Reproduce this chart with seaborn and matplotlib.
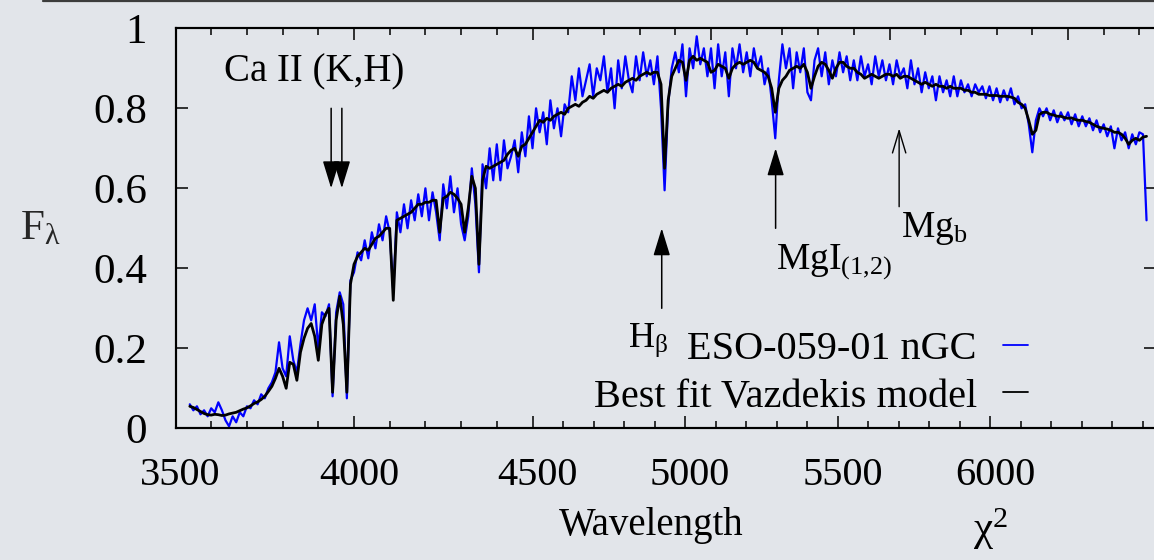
import numpy as np
import pandas as pd
import matplotlib
matplotlib.use("Agg")
import matplotlib.pyplot as plt
import seaborn as sns
from matplotlib.ticker import MultipleLocator, FixedLocator, FixedFormatter, NullFormatter
from matplotlib.lines import Line2D
from matplotlib.transforms import ScaledTranslation

# ---------------- data ----------------
wave_start, wave_stop, wave_step = 3540, 6220, 10

observed_flux = [
    0.060, 0.045, 0.055, 0.035, 0.045, 0.030, 0.050, 0.040, 0.065, 0.045,
    0.020, 0.005, 0.030, 0.015, 0.040, 0.030, 0.055, 0.050, 0.070, 0.060,
    0.085, 0.075, 0.100, 0.115, 0.140, 0.215, 0.150, 0.130, 0.230, 0.170,
    0.140, 0.210, 0.270, 0.300, 0.270, 0.310, 0.200, 0.290, 0.280, 0.310,
    0.080, 0.290, 0.340, 0.310, 0.075, 0.370, 0.390, 0.440, 0.420, 0.470,
    0.425, 0.490, 0.450, 0.510, 0.470, 0.530, 0.490, 0.340, 0.540, 0.490,
    0.560, 0.500, 0.570, 0.520, 0.585, 0.530, 0.600, 0.520, 0.590, 0.540,
    0.470, 0.610, 0.550, 0.630, 0.540, 0.600, 0.510, 0.470, 0.530, 0.650,
    0.560, 0.390, 0.660, 0.600, 0.700, 0.620, 0.710, 0.620, 0.720, 0.650,
    0.680, 0.720, 0.640, 0.740, 0.680, 0.780, 0.700, 0.800, 0.740, 0.790,
    0.710, 0.820, 0.750, 0.800, 0.730, 0.810, 0.790, 0.880, 0.820, 0.900,
    0.830, 0.870, 0.910, 0.830, 0.900, 0.870, 0.930, 0.840, 0.900, 0.800,
    0.920, 0.850, 0.930, 0.870, 0.840, 0.930, 0.870, 0.940, 0.880, 0.920,
    0.860, 0.930, 0.800, 0.595, 0.810, 0.900, 0.940, 0.890, 0.960, 0.830,
    0.950, 0.900, 0.980, 0.910, 0.950, 0.880, 0.950, 0.850, 0.960, 0.880,
    0.940, 0.830, 0.950, 0.900, 0.960, 0.890, 0.940, 0.880, 0.950, 0.900,
    0.930, 0.860, 0.900, 0.820, 0.725, 0.870, 0.960, 0.900, 0.950, 0.850,
    0.940, 0.890, 0.950, 0.840, 0.820, 0.920, 0.950, 0.880, 0.940, 0.860,
    0.920, 0.880, 0.940, 0.890, 0.930, 0.870, 0.920, 0.870, 0.930, 0.880,
    0.910, 0.860, 0.930, 0.880, 0.920, 0.870, 0.910, 0.860, 0.920, 0.880,
    0.900, 0.850, 0.920, 0.860, 0.900, 0.840, 0.890, 0.850, 0.880, 0.820,
    0.880, 0.840, 0.870, 0.830, 0.880, 0.830, 0.870, 0.840, 0.860, 0.830,
    0.860, 0.840, 0.855, 0.825, 0.855, 0.820, 0.850, 0.815, 0.845, 0.820,
    0.850, 0.810, 0.830, 0.800, 0.810, 0.760, 0.690, 0.770, 0.800, 0.780,
    0.800, 0.770, 0.795, 0.765, 0.790, 0.770, 0.790, 0.760, 0.785, 0.755,
    0.780, 0.755, 0.775, 0.745, 0.770, 0.740, 0.760, 0.730, 0.755, 0.700,
    0.750, 0.720, 0.740, 0.700, 0.735, 0.710, 0.740, 0.735, 0.520,
]

model_flux = [
    0.055, 0.052, 0.047, 0.042, 0.037, 0.034, 0.033, 0.035, 0.034, 0.032,
    0.033, 0.036, 0.038, 0.040, 0.044, 0.048, 0.051, 0.056, 0.062, 0.066,
    0.072, 0.080, 0.092, 0.105, 0.125, 0.150, 0.130, 0.100, 0.165, 0.160,
    0.120, 0.190, 0.225, 0.250, 0.262, 0.230, 0.170, 0.260, 0.285, 0.300,
    0.090, 0.270, 0.330, 0.260, 0.090, 0.360, 0.410, 0.430, 0.440, 0.450,
    0.445, 0.460, 0.475, 0.480, 0.490, 0.500, 0.500, 0.320, 0.520, 0.525,
    0.530, 0.535, 0.540, 0.550, 0.560, 0.560, 0.565, 0.565, 0.570, 0.570,
    0.490, 0.575, 0.580, 0.590, 0.585, 0.575, 0.560, 0.490, 0.550, 0.630,
    0.600, 0.410, 0.620, 0.655, 0.650, 0.655, 0.660, 0.665, 0.670, 0.685,
    0.695, 0.700, 0.680, 0.705, 0.710, 0.725, 0.740, 0.755, 0.770, 0.765,
    0.775, 0.770, 0.780, 0.785, 0.790, 0.785, 0.800, 0.805, 0.810, 0.805,
    0.815, 0.820, 0.830, 0.825, 0.835, 0.840, 0.845, 0.840, 0.850, 0.855,
    0.860, 0.855, 0.865, 0.870, 0.875, 0.870, 0.880, 0.885, 0.890, 0.885,
    0.890, 0.890, 0.860, 0.650, 0.820, 0.880, 0.900, 0.920, 0.915, 0.870,
    0.920, 0.930, 0.920, 0.925, 0.920, 0.915, 0.890, 0.895, 0.910, 0.905,
    0.900, 0.875, 0.900, 0.910, 0.915, 0.910, 0.915, 0.920, 0.915, 0.900,
    0.895, 0.890, 0.880, 0.850, 0.790, 0.850, 0.870, 0.880, 0.895, 0.900,
    0.905, 0.900, 0.910, 0.890, 0.850, 0.880, 0.905, 0.915, 0.910, 0.895,
    0.875, 0.900, 0.915, 0.915, 0.905, 0.900, 0.900, 0.890, 0.885, 0.875,
    0.880, 0.885, 0.880, 0.875, 0.880, 0.885, 0.885, 0.880, 0.885, 0.875,
    0.880, 0.880, 0.875, 0.870, 0.865, 0.860, 0.865, 0.860, 0.855, 0.860,
    0.855, 0.855, 0.850, 0.855, 0.850, 0.850, 0.850, 0.845, 0.845, 0.840,
    0.840, 0.835, 0.835, 0.835, 0.832, 0.832, 0.832, 0.830, 0.830, 0.830,
    0.828, 0.825, 0.815, 0.810, 0.800, 0.770, 0.735, 0.745, 0.785, 0.790,
    0.790, 0.785, 0.783, 0.780, 0.780, 0.777, 0.775, 0.776, 0.772, 0.770,
    0.770, 0.767, 0.765, 0.760, 0.755, 0.752, 0.750, 0.748, 0.745, 0.740,
    0.740, 0.735, 0.725, 0.710, 0.720, 0.725, 0.720, 0.728, 0.730,
]

series_labels = ["ESO-059-01 nGC", "Best fit Vazdekis model"]
ytick_values = [0, 0.2, 0.4, 0.6, 0.8, 1]
ytick_labels = ["0", "0.2", "0.4", "0.6", "0.8", "1"]
bottom_tick_values = [3500, 4000, 4500, 5000, 5500, 6000]
bottom_tick_labels = ["3500", "4000", "4500", "5000", "5500", "6000"]
bottom_minor_values = list(range(3500, 6600, 100))

wavelength = np.arange(wave_start, wave_stop + 1, wave_step)
assert len(wavelength) == len(observed_flux) == len(model_flux)

df_obs = pd.DataFrame({"Wavelength": wavelength, "Flux": observed_flux})
df_mod = pd.DataFrame({"Wavelength": wavelength, "Flux": model_flux})

# ---------------- style ----------------
sns.set_theme(style="ticks")
BG = "#e2e5ea"
plt.rcParams.update({
    "font.family": ["Liberation Serif", "DejaVu Serif"],
    "mathtext.fontset": "custom",
    "mathtext.rm": "Liberation Serif",
    "mathtext.it": "Liberation Serif",
    "mathtext.bf": "Liberation Serif:bold",
    "mathtext.default": "rm",
    "figure.facecolor": BG,
    "axes.facecolor": BG,
    "savefig.facecolor": BG,
    "axes.edgecolor": "black",
    "axes.linewidth": 1.5,
    "text.color": "black",
    "xtick.color": "black",
    "ytick.color": "black",
})

W, H = 1154, 560
fig = plt.figure(figsize=(W / 100, H / 100), dpi=100)
left_px, right_px, top_px, bot_px = 175.5, 1156.0, 28.3, 428.3
ax = fig.add_axes([left_px / W, 1 - bot_px / H, (right_px - left_px) / W, (bot_px - top_px) / H])
px_per_A = 0.357
xlim = (3500, 3500 + (right_px - left_px) / px_per_A)
ax.set_xlim(*xlim)
ax.set_ylim(0, 1)

sns.lineplot(data=df_obs, x="Wavelength", y="Flux", color="#0000ff", linewidth=1.6,
             ax=ax, label=series_labels[0], zorder=2)
sns.lineplot(data=df_mod, x="Wavelength", y="Flux", color="black", linewidth=2.0,
             ax=ax, label=series_labels[1], zorder=3)
ax.set_xlabel("")

# printed bottom wavelength scale on the reference is stretched beyond 4500
K = 1.17
def printed_to_data(b):
    b = np.asarray(b, dtype=float)
    return np.where(b <= 4500, b, 4500 + (b - 4500) / K)

ax.xaxis.set_major_locator(FixedLocator(printed_to_data(bottom_tick_values)))
ax.xaxis.set_major_formatter(FixedFormatter(bottom_tick_labels))
minor_pos = [v for v in bottom_minor_values if v not in bottom_tick_values]
ax.xaxis.set_minor_locator(FixedLocator(printed_to_data(minor_pos)))
ax.xaxis.set_minor_formatter(NullFormatter())
ax.tick_params(axis="x", which="both", direction="in", bottom=True, top=False,
               labelbottom=True, labeltop=False, width=1.1, labelsize=29, pad=21)
ax.tick_params(axis="x", which="major", length=8.6)
ax.tick_params(axis="x", which="minor", length=4.8)

ax.yaxis.set_major_locator(FixedLocator(ytick_values))
ax.yaxis.set_major_formatter(FixedFormatter(ytick_labels))
ax.tick_params(axis="y", which="major", direction="in", length=8.6, width=1.1,
               left=True, right=True, labelsize=31, pad=20.5)
for s in ax.spines.values():
    s.set_linewidth(1.5)

# top axis: linear wavelength ticks (major 500, minor 100), no labels
ax_top = ax.twiny()
ax_top.set_xlim(*xlim)
ax_top.xaxis.set_major_locator(MultipleLocator(500))
ax_top.xaxis.set_minor_locator(MultipleLocator(100))
ax_top.tick_params(axis="x", which="both", direction="in", top=True, bottom=False,
                   labeltop=False, labelbottom=False, width=1.1)
ax_top.tick_params(axis="x", which="major", length=8.6)
ax_top.tick_params(axis="x", which="minor", length=4.8)
for s in ax_top.spines.values():
    s.set_linewidth(1.5)

# shift bottom labels slightly right, like the reference
offset = ScaledTranslation(5 / 100, 0, fig.dpi_scale_trans)
for lab in ax.get_xticklabels():
    lab.set_transform(lab.get_transform() + offset)

ax.text((651 - left_px) / (right_px - left_px), -(535 - bot_px) / 400, "Wavelength",
        transform=ax.transAxes, fontsize=28, ha="center", va="baseline", clip_on=False)

ax.set_ylabel(r"F$_{λ}$", fontsize=31, rotation=0, ha="left", va="baseline")
ax.yaxis.set_label_coords((20 - left_px) / (right_px - left_px), (bot_px - 239) / 400)

ax.text((973 - left_px) / (right_px - left_px), -(541 - bot_px) / 400, r"χ$^{2}$",
        transform=ax.transAxes, fontsize=31, ha="left", va="baseline", clip_on=False)

# ---- arrows & line labels ----
def filled_arrow(x, y_tail, y_tip):
    ax.annotate("", xy=(x, y_tip), xytext=(x, y_tail),
                arrowprops=dict(arrowstyle="-|>,head_length=0.85,head_width=0.26",
                                mutation_scale=20, color="black", lw=1.1,
                                shrinkA=0, shrinkB=0))

filled_arrow(3936, 0.80, 0.60)
filled_arrow(3966, 0.80, 0.60)
filled_arrow(4862, 0.30, 0.50)
filled_arrow(5181, 0.50, 0.70)
ax.annotate("", xy=(5527, 0.75), xytext=(5527, 0.554),
            arrowprops=dict(arrowstyle="->,head_length=0.8,head_width=0.24",
                            mutation_scale=20, color="black", lw=1.0,
                            shrinkA=0, shrinkB=0))

ax.text(3888, 0.866, "Ca II (K,H)", ha="center", va="baseline", fontsize=28)
ax.text(4767, 0.204, r"H$_{β}$", ha="left", va="baseline", fontsize=26)
ax.text(5182, 0.40, r"MgI$_{(1{,}2)}$", ha="left", va="baseline", fontsize=27)
ax.text(5531, 0.478, r"Mg$_{b}$", ha="left", va="baseline", fontsize=27)

# ---- legend (gnuplot style: right-aligned text, sample after) ----
leg = ax.legend(loc="lower right", bbox_to_anchor=((1028 - left_px) / (right_px - left_px), 0.032),
                frameon=False, fontsize=29, markerfirst=False, handlelength=0.62,
                handletextpad=0.65, labelspacing=0.25, borderpad=0, borderaxespad=0)
for col in leg._legend_handle_box.get_children():
    col.align = "right"
for ln in leg.get_lines():
    ln.set_linewidth(1.3)

# thin dark line along the very top of the slide
fig.add_artist(Line2D([43 / W, 1], [1 - 1.2 / H, 1 - 1.2 / H], transform=fig.transFigure,
                      color="#3c3c3c", lw=1.6))

fig.savefig("out.png", dpi=100)

# safety check: make sure the inward top ticks really appear
img = plt.imread("out.png")
if img[31:38, 353:356, :3].mean() > 0.6:
    trans = ax.get_xaxis_transform()
    minor_top = MultipleLocator(100).tick_values(*xlim)
    major_top = MultipleLocator(500).tick_values(*xlim)
    minor_top = [v for v in minor_top if xlim[0] < v < xlim[1] and v not in major_top]
    major_top = [v for v in major_top if xlim[0] < v < xlim[1]]
    ax.vlines(minor_top, 1 - 6.7 / 400, 1, transform=trans, colors="black", lw=1.1, clip_on=False)
    ax.vlines(major_top, 1 - 12 / 400, 1, transform=trans, colors="black", lw=1.1, clip_on=False)
    fig.savefig("out.png", dpi=100)
